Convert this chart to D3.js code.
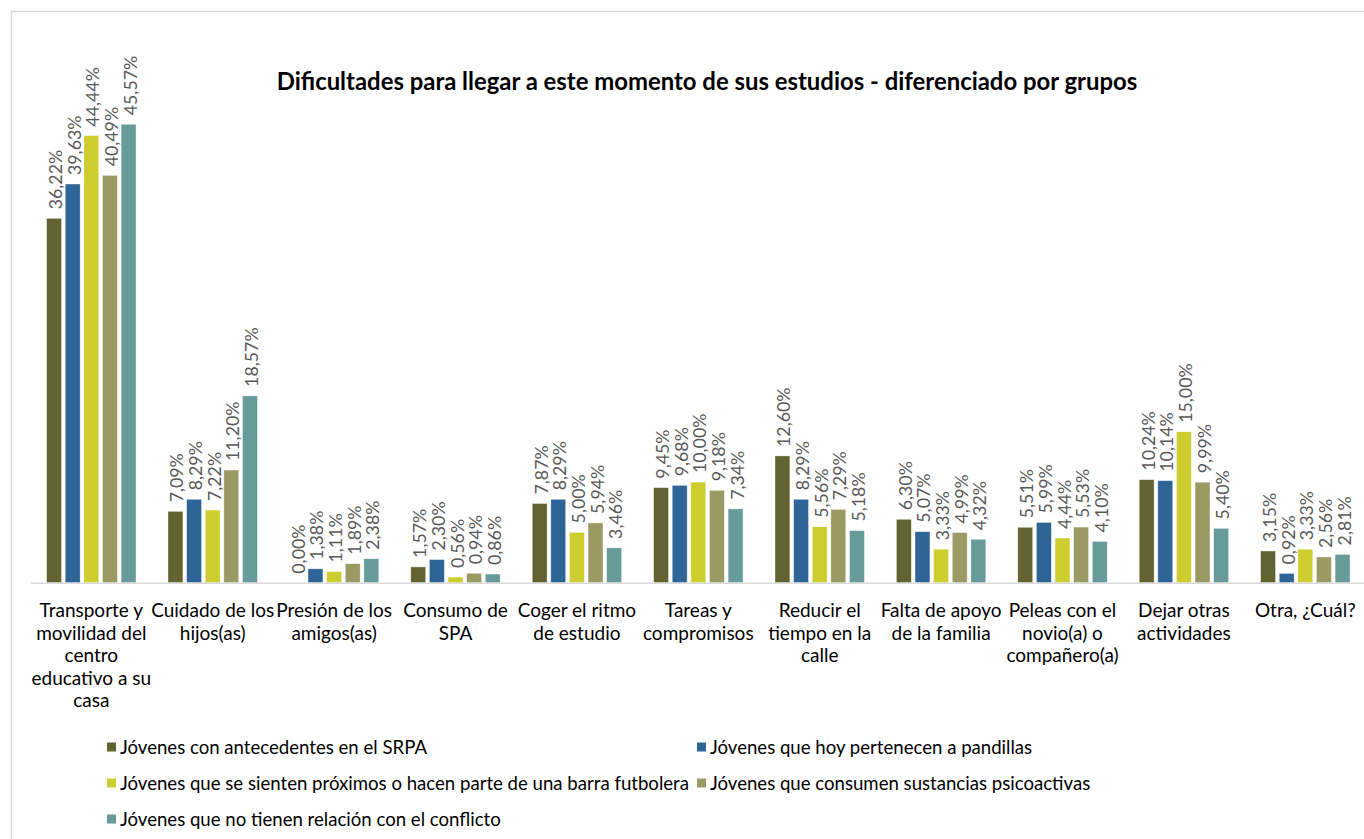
<!DOCTYPE html>
<html>
<head>
<meta charset="utf-8">
<script src="https://cdn.jsdelivr.net/npm/d3@7/dist/d3.min.js"></script>
<style>
  html, body { margin: 0; padding: 0; background: #fff; }
  svg { display: block; font-family: Lato, "Open Sans", sans-serif; }
</style>
</head>
<body>
<svg id="chart" width="1364" height="839"></svg>
<script>
// Category labels (pre-wrapped lines)
const categories = [
  ["Transporte y", "movilidad del", "centro", "educativo a su", "casa"],
  ["Cuidado de los", "hijos(as)"],
  ["Presión de los", "amigos(as)"],
  ["Consumo de", "SPA"],
  ["Coger el ritmo", "de estudio"],
  ["Tareas y", "compromisos"],
  ["Reducir el", "tiempo en la", "calle"],
  ["Falta de apoyo", "de la familia"],
  ["Peleas con el", "novio(a) o", "compañero(a)"],
  ["Dejar otras", "actividades"],
  ["Otra, ¿Cuál?"]
];

const seriesNames = [
  "Jóvenes con antecedentes en el SRPA",
  "Jóvenes que hoy pertenecen a pandillas",
  "Jóvenes que se sienten próximos o hacen parte de una barra futbolera",
  "Jóvenes que consumen sustancias psicoactivas",
  "Jóvenes que no tienen relación con el conflicto"
];

const srpa      = [36.22, 7.09, 0.00, 1.57, 7.87, 9.45, 12.60, 6.30, 5.51, 10.24, 3.15];
const pandillas = [39.63, 8.29, 1.38, 2.30, 8.29, 9.68, 8.29, 5.07, 5.99, 10.14, 0.92];
const barra     = [44.44, 7.22, 1.11, 0.56, 5.00, 10.00, 5.56, 3.33, 4.44, 15.00, 3.33];
const spa       = [40.49, 11.20, 1.89, 0.94, 5.94, 9.18, 7.29, 4.99, 5.53, 9.99, 2.56];
const ninguna   = [45.57, 18.57, 2.38, 0.86, 3.46, 7.34, 5.18, 4.32, 4.10, 5.40, 2.81];

const seriesValues = [srpa, pandillas, barra, spa, ninguna];
const colors = ["#636331", "#2f6497", "#cdcd2f", "#9b9a64", "#669b9a"];

const title = "Dificultades para llegar a este momento de sus estudios - diferenciado por grupos";

const svg = d3.select("#chart");

// Outer chart frame
svg.append("rect")
  .attr("x", 11.5).attr("y", 11.5)
  .attr("width", 1400).attr("height", 900)
  .attr("fill", "none").attr("stroke", "#d9d9d9").attr("stroke-width", 1.5);

// Title
svg.append("text")
  .attr("x", 707).attr("y", 90)
  .attr("text-anchor", "middle")
  .attr("font-weight", "bold")
  .attr("font-size", 23.9)
  .attr("fill", "#000")
  .text(title);

// Scales
const catIdx = categories.map((d, i) => i);
const x0 = d3.scaleBand().domain(catIdx).range([30.6, 1366]).paddingInner(0).paddingOuter(0);
const x1 = d3.scaleBand().domain(d3.range(seriesValues.length))
  .range([16, 105.4]).paddingInner(0.2).paddingOuter(0);
const y = d3.scaleLinear().domain([0, 50]).range([582.7, 79.7]);

const fmt = v => d3.format(".2f")(v).replace(".", ",") + "%";

// Bars and value labels
const groups = svg.append("g").selectAll("g")
  .data(catIdx)
  .join("g")
  .attr("transform", i => `translate(${x0(i)},0)`);

groups.selectAll("rect")
  .data(i => seriesValues.map((s, k) => ({ k, v: s[i] })))
  .join("rect")
  .attr("x", d => x1(d.k))
  .attr("width", x1.bandwidth())
  .attr("y", d => y(d.v))
  .attr("height", d => y(0) - y(d.v))
  .attr("fill", d => colors[d.k])
  .attr("stroke", "#ffffff")
  .attr("stroke-opacity", 0.6)
  .attr("stroke-width", 0.6);

groups.selectAll("text.val")
  .data(i => seriesValues.map((s, k) => ({ k, v: s[i] })))
  .join("text")
  .attr("class", "val")
  .attr("transform", d => `translate(${x1(d.k) + x1.bandwidth() / 2 + 1},${y(d.v) - 9}) rotate(-90)`)
  .attr("dominant-baseline", "central")
  .attr("font-size", 17.8)
  .attr("fill", "#595959")
  .text(d => fmt(d.v));

// Baseline (category axis)
const xAxis = d3.axisBottom(x0).tickSize(0).tickFormat("");
const axisG = svg.append("g")
  .attr("transform", `translate(0,${y(0)})`)
  .call(xAxis);
axisG.select(".domain").attr("stroke", "#d9d9d9").attr("stroke-width", 1.5);

// Category labels
const catLabels = svg.append("g").selectAll("text")
  .data(catIdx)
  .join("text")
  .attr("text-anchor", "middle")
  .attr("font-size", 19)
  .attr("fill", "#000")
  .attr("x", i => x0(i) + x0.bandwidth() / 2)
  .attr("y", 617);
catLabels.selectAll("tspan")
  .data(i => categories[i].map(line => ({ line, i })))
  .join("tspan")
  .attr("x", d => x0(d.i) + x0.bandwidth() / 2)
  .attr("dy", (d, j) => j === 0 ? 0 : 22.5)
  .text(d => d.line);

// Legend
const legendCols = [107, 697];
const legendRows = [747, 783, 819];
const legend = svg.append("g").selectAll("g")
  .data(seriesNames)
  .join("g")
  .attr("transform", (d, i) => `translate(${legendCols[i % 2]},${legendRows[Math.floor(i / 2)]})`);
legend.append("rect")
  .attr("x", 0).attr("y", -4.5)
  .attr("width", 9).attr("height", 9)
  .attr("fill", (d, i) => colors[i]);
legend.append("text")
  .attr("x", 13).attr("y", 0)
  .attr("dominant-baseline", "central")
  .attr("font-size", 18.6)
  .attr("fill", "#000")
  .text(d => d);
</script>
</body>
</html>
